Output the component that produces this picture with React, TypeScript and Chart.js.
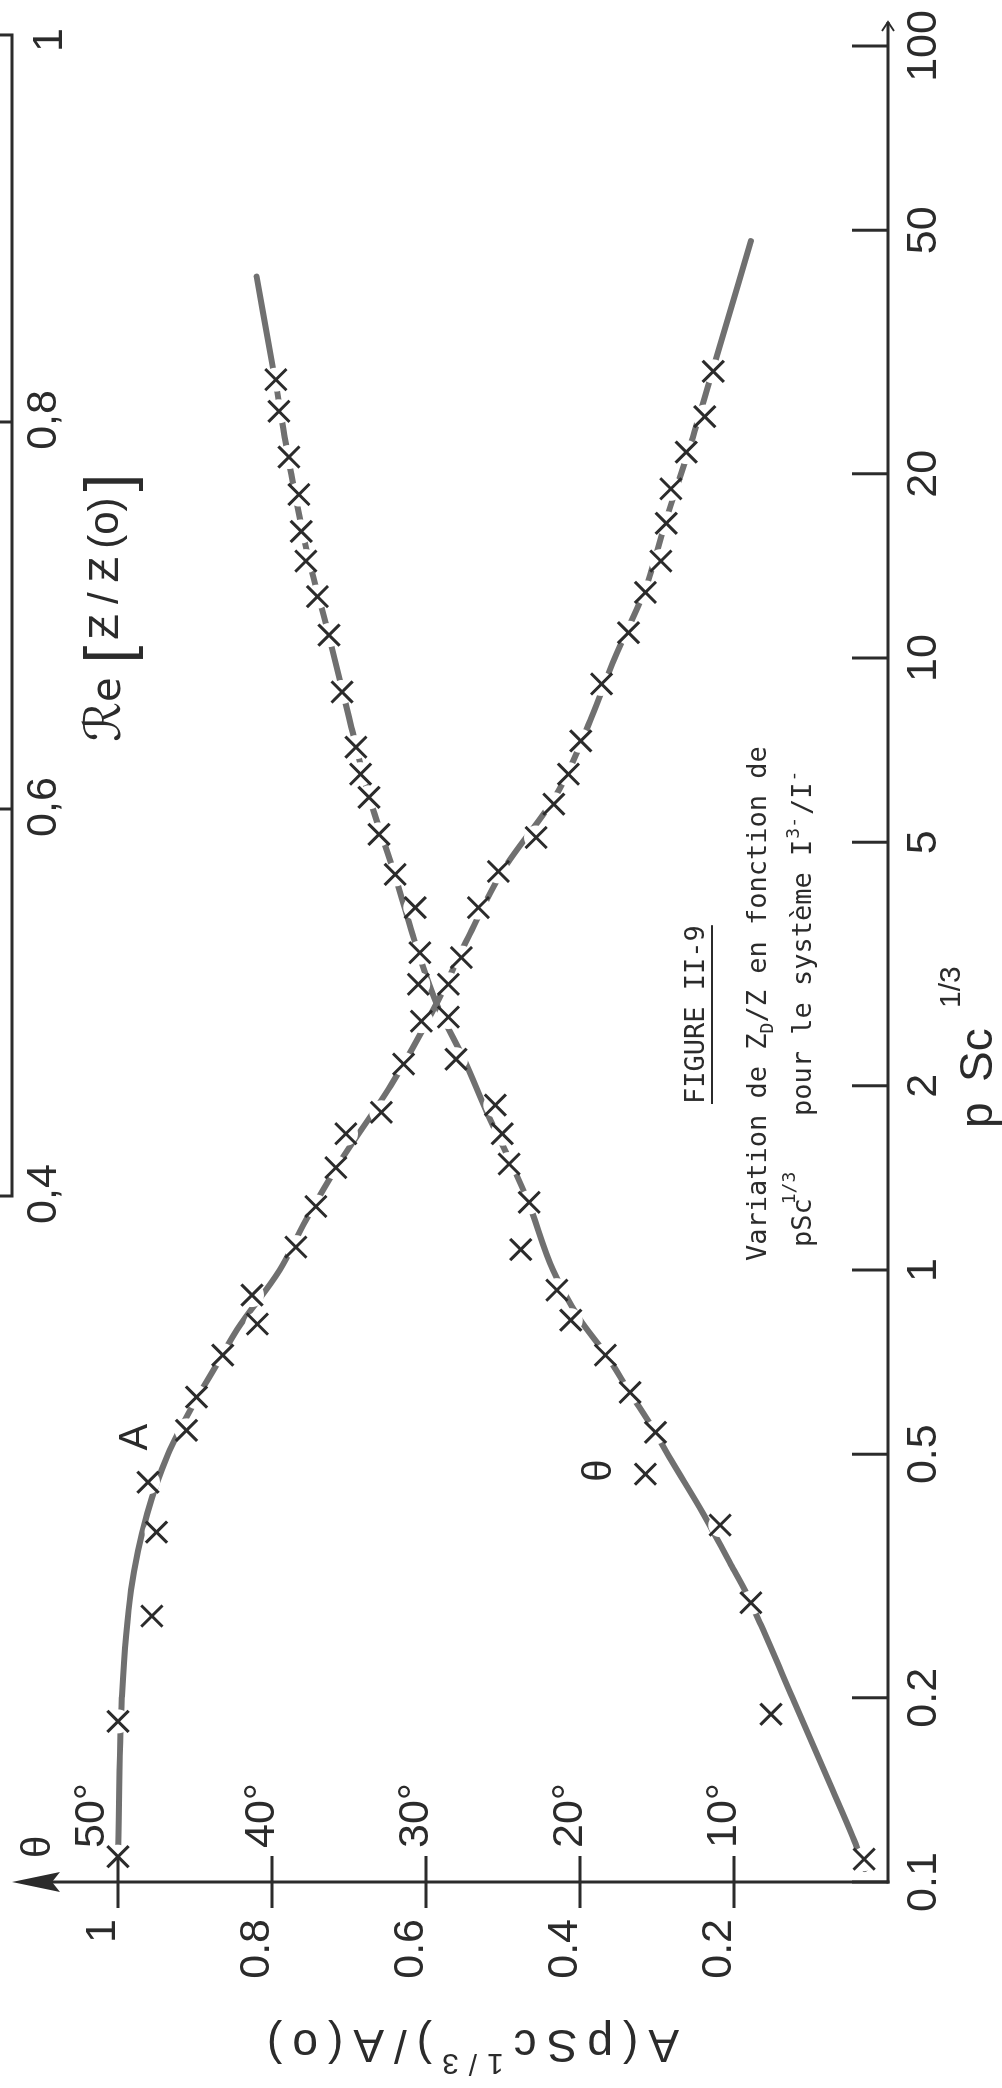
import React, { useEffect, useRef } from "react";
import { Chart, registerables } from "chart.js";

Chart.register(...registerables);

// ---------------- data ----------------
const X_TICKS = [0.1, 0.2, 0.5, 1, 2, 5, 10, 20, 50, 100];
const X_TICK_LABELS = ["0.1", "0.2", "0.5", "1", "2", "5", "10", "20", "50", "100"];
const Y_TICKS = [0.2, 0.4, 0.6, 0.8, 1];
const Y_TICK_LABELS = ["0.2", "0.4", "0.6", "0.8", "1"];
const THETA_TICKS = [10, 20, 30, 40, 50];
const THETA_TICK_LABELS = ["10°", "20°", "30°", "40°", "50°"];
const RE_TICKS = [0.4, 0.6, 0.8, 1];
const RE_TICK_LABELS = ["0,4", "0,6", "0,8", "1"];

// amplitude ratio A(pSc^1/3)/A(o): drawn curve
const A_CURVE_X = [0.11, 0.2, 0.3, 0.4, 0.5, 0.6, 0.7, 0.8, 1.0, 1.2, 1.5, 2.0, 2.7, 3.5, 4.5, 6, 8, 10, 13, 17, 22, 30, 48];
const A_CURVE_Y = [1.0, 0.995, 0.983, 0.962, 0.935, 0.903, 0.872, 0.845, 0.79, 0.757, 0.712, 0.646, 0.588, 0.545, 0.5, 0.43, 0.385, 0.355, 0.315, 0.287, 0.258, 0.226, 0.178];
// amplitude ratio: measured points (x marks)
const A_PTS_X = [0.11, 0.183, 0.272, 0.373, 0.45, 0.547, 0.62, 0.726, 0.816, 0.91, 1.09, 1.27, 1.47, 1.67, 1.81, 2.17, 2.55, 2.93, 3.24, 3.91, 4.48, 5.09, 5.77, 6.46, 7.32, 9.07, 11.0, 12.8, 14.4, 16.6, 18.9, 21.7, 24.8, 29.4];
const A_PTS_Y = [1.0, 1.0, 0.956, 0.95, 0.961, 0.911, 0.898, 0.864, 0.819, 0.826, 0.769, 0.743, 0.717, 0.704, 0.658, 0.629, 0.606, 0.571, 0.554, 0.532, 0.506, 0.457, 0.434, 0.415, 0.399, 0.372, 0.337, 0.315, 0.295, 0.288, 0.282, 0.262, 0.238, 0.227];

// phase angle theta (1 = 50°): drawn curve
const T_CURVE_X = [0.105, 0.117, 0.15, 0.2, 0.263, 0.3, 0.33, 0.4, 0.49, 0.55, 0.63, 0.73, 0.83, 1.0, 1.3, 1.5, 1.8, 2.2, 2.7, 3.3, 4.4, 6, 8, 11, 15, 20, 28, 42];
const T_CURVE_Y = [0.03, 0.044, 0.081, 0.124, 0.165, 0.186, 0.204, 0.24, 0.282, 0.305, 0.335, 0.367, 0.4, 0.435, 0.468, 0.49, 0.52, 0.55, 0.585, 0.61, 0.64, 0.675, 0.7, 0.727, 0.755, 0.775, 0.795, 0.82];
// phase angle: measured points (x marks)
const T_PTS_X = [0.109, 0.188, 0.286, 0.383, 0.464, 0.543, 0.631, 0.726, 0.828, 0.927, 1.08, 1.29, 1.49, 1.67, 1.86, 2.21, 2.59, 2.93, 3.3, 3.91, 4.43, 5.15, 5.92, 6.46, 7.15, 8.8, 10.9, 12.6, 14.4, 16.1, 18.5, 21.3, 25.3, 28.5];
const T_PTS_Y = [0.031, 0.152, 0.178, 0.218, 0.315, 0.302, 0.335, 0.367, 0.412, 0.43, 0.477, 0.466, 0.492, 0.501, 0.51, 0.561, 0.571, 0.61, 0.608, 0.614, 0.64, 0.661, 0.674, 0.685, 0.691, 0.709, 0.726, 0.741, 0.756, 0.762, 0.765, 0.778, 0.791, 0.795];

// ---------------- styles ----------------
const INK = "#2b2b2b";
const CURVE = "#707070";
const FONT = '"Liberation Sans", Arial, sans-serif';
const MONO = '"DejaVu Sans Mono", monospace';
const W = 2088;
const H = 1002;

type Seg = { t: string; size: number; dy?: number; family?: string };

function drawRun(ctx: CanvasRenderingContext2D, x: number, y: number, segs: Seg[], spacing = 0) {
  let cx = x;
  for (const s of segs) {
    ctx.font = `${s.size}px ${s.family || FONT}`;
    for (const ch of Array.from(s.t)) {
      ctx.fillText(ch, cx, y + (s.dy || 0));
      cx += ctx.measureText(ch).width + spacing;
    }
  }
  return cx;
}

function runWidth(ctx: CanvasRenderingContext2D, segs: Seg[], spacing = 0) {
  let w = 0;
  for (const s of segs) {
    ctx.font = `${s.size}px ${s.family || FONT}`;
    for (const ch of Array.from(s.t)) w += ctx.measureText(ch).width + spacing;
  }
  return w - spacing;
}

// a "Z" with a middle stroke (complex impedance notation)
function drawStrokedZ(ctx: CanvasRenderingContext2D, x: number, y: number, size: number) {
  ctx.font = `${size}px ${FONT}`;
  ctx.fillText("Z", x, y);
  const w = ctx.measureText("Z").width;
  ctx.save();
  ctx.lineWidth = 2.5;
  ctx.beginPath();
  ctx.moveTo(x + w * 0.15, y - size * 0.36);
  ctx.lineTo(x + w * 0.85, y - size * 0.36);
  ctx.stroke();
  ctx.restore();
  return x + w;
}

const decorPlugin = {
  id: "decor",
  afterDatasetsDraw(chart: any) {
    const ctx: CanvasRenderingContext2D = chart.ctx;
    const xs = chart.scales.x;
    const ys = chart.scales.y;
    const yt = chart.scales.yTheta;
    const xr = chart.scales.xRe;
    const x0 = xs.getPixelForValue(0.1);
    const y0 = ys.getPixelForValue(0);
    ctx.save();
    ctx.strokeStyle = INK;
    ctx.fillStyle = INK;
    ctx.lineWidth = 3;

    // vertical axis with arrow
    ctx.beginPath();
    ctx.moveTo(x0, y0 + 1.5);
    ctx.lineTo(x0, 40);
    ctx.stroke();
    ctx.beginPath();
    ctx.moveTo(x0, 12);
    ctx.lineTo(x0 - 10, 60);
    ctx.lineTo(x0, 52);
    ctx.lineTo(x0 + 10, 60);
    ctx.closePath();
    ctx.fill();

    // horizontal (log) axis with small arrow
    const xEnd = xs.getPixelForValue(100) + 24;
    ctx.beginPath();
    ctx.moveTo(x0 - 1.5, y0);
    ctx.lineTo(xEnd, y0);
    ctx.stroke();
    ctx.lineWidth = 2;
    ctx.beginPath();
    ctx.moveTo(xEnd - 9, y0 - 6);
    ctx.lineTo(xEnd, y0);
    ctx.lineTo(xEnd - 9, y0 + 6);
    ctx.stroke();
    ctx.lineWidth = 3;

    // log ticks (pointing into the plot)
    for (const v of X_TICKS) {
      const px = xs.getPixelForValue(v);
      ctx.beginPath();
      ctx.moveTo(px, y0);
      ctx.lineTo(px, y0 - 36);
      ctx.stroke();
    }
    // A ticks (crossing the axis)
    for (const v of Y_TICKS) {
      const py = ys.getPixelForValue(v);
      ctx.beginPath();
      ctx.moveTo(x0 - 26, py);
      ctx.lineTo(x0 + 26, py);
      ctx.stroke();
    }

    // theta degree labels
    ctx.font = `43px ${FONT}`;
    ctx.textAlign = "left";
    ctx.textBaseline = "alphabetic";
    THETA_TICKS.forEach((v, i) => {
      const py = yt.getPixelForValue(v);
      ctx.fillText(THETA_TICK_LABELS[i], x0 + 34, v === 50 ? py - 14 : py + 2);
    });
    ctx.font = `40px ${FONT}`;
    ctx.fillText("θ", x0 + 24, 50);

    // curve labels
    ctx.textAlign = "center";
    ctx.font = `40px ${FONT}`;
    ctx.fillText("A", xs.getPixelForValue(0.533), ys.getPixelForValue(0.962));
    ctx.fillText("θ", xs.getPixelForValue(0.47), ys.getPixelForValue(0.36));

    // Re axis of the upper figure
    const r0 = xr.getPixelForValue(0.4);
    const r1 = xr.getPixelForValue(1);
    ctx.beginPath();
    ctx.moveTo(r0, 0);
    ctx.lineTo(r0, 12);
    ctx.lineTo(r1, 12);
    ctx.lineTo(r1, 0);
    ctx.stroke();
    for (const v of [0.6, 0.8]) {
      const px = xr.getPixelForValue(v);
      ctx.beginPath();
      ctx.moveTo(px, 0);
      ctx.lineTo(px, 12);
      ctx.stroke();
    }
    ctx.font = `43px ${FONT}`;
    ctx.textAlign = "center";
    RE_TICKS.forEach((v, i) => {
      const px = xr.getPixelForValue(v) + (v === 1 ? -5 : 2);
      ctx.fillText(RE_TICK_LABELS[i], px, v === 1 ? 62 : 56);
    });
    ctx.textAlign = "left";
    let cx = drawRun(ctx, 1346, 120, [{ t: "ℛ", size: 50, family: '"DejaVu Sans", sans-serif' }, { t: "e", size: 40, family: '"DejaVu Sans", sans-serif' }]);
    cx += 14;
    cx = drawRun(ctx, cx, 130, [{ t: "[", size: 64 }]);
    cx += 6;
    cx = drawStrokedZ(ctx, cx, 118, 42);
    cx += 10;
    cx = drawRun(ctx, cx, 118, [{ t: "/", size: 42 }]);
    cx += 10;
    cx = drawStrokedZ(ctx, cx, 118, 42);
    cx += 8;
    cx = drawRun(ctx, cx, 118, [{ t: "(o)", size: 42 }]);
    cx += 6;
    drawRun(ctx, cx, 130, [{ t: "]", size: 64 }]);

    // x axis title
    drawRun(ctx, 960, 992, [{ t: "p", size: 46 }]);
    drawRun(ctx, 1006, 992, [{ t: "Sc", size: 46 }]);
    drawRun(ctx, 1080, 960, [{ t: "1/3", size: 30 }]);

    // y axis title (rotated)
    const ySegs: Seg[] = [
      { t: "A(pSc", size: 46 },
      { t: "1/3", size: 30, dy: -24 },
      { t: ")/A(o)", size: 46 },
    ];
    ctx.save();
    ctx.translate(58, 473);
    ctx.rotate(-Math.PI / 2);
    const tw = runWidth(ctx, ySegs, 10);
    drawRun(ctx, -tw / 2, 0, ySegs, 10);
    ctx.restore();

    // caption
    ctx.textAlign = "left";
    const f1 = drawRun(ctx, 984, 704, [{ t: "FIGURE II-9", size: 27, family: MONO }]);
    ctx.lineWidth = 2;
    ctx.beginPath();
    ctx.moveTo(984, 712);
    ctx.lineTo(f1, 712);
    ctx.stroke();
    let c2 = drawRun(ctx, 827, 766, [{ t: "Variation de Z", size: 27, family: MONO }]);
    c2 = drawRun(ctx, c2, 773, [{ t: "D", size: 18, family: MONO }]);
    drawRun(ctx, c2, 766, [{ t: "/Z en fonction de", size: 27, family: MONO }]);
    const c3a = drawRun(ctx, 841, 811, [{ t: "pSc", size: 27, family: MONO }]);
    drawRun(ctx, c3a - 6, 795, [{ t: "1/3", size: 18, family: MONO }]);
    let c3 = drawRun(ctx, 972, 811, [{ t: "pour le système I", size: 27, family: MONO }]);
    c3 = drawRun(ctx, c3 + 1, 799, [{ t: "3-", size: 18, family: MONO }]);
    c3 = drawRun(ctx, c3 + 2, 811, [{ t: "/I", size: 27, family: MONO }]);
    drawRun(ctx, c3 + 1, 799, [{ t: "-", size: 18, family: MONO }]);

    ctx.restore();
  },
};

function pts(xsArr: number[], ysArr: number[]) {
  return xsArr.map((x, i) => ({ x, y: ysArr[i] }));
}

export default function App() {
  const ref = useRef<HTMLCanvasElement>(null);

  useEffect(() => {
    if (!ref.current) return;
    const curve = (data: any) => ({
      data,
      showLine: true,
      borderColor: CURVE,
      borderWidth: 6,
      borderCapStyle: "round",
      pointRadius: 0,
      cubicInterpolationMode: "monotone",
      clip: false,
      order: 3,
    });
    const gaps = (data: any) => ({
      data,
      showLine: false,
      pointStyle: "circle",
      pointRadius: 12,
      pointBorderWidth: 0,
      pointBackgroundColor: "#ffffff",
      pointBorderColor: "#ffffff",
      clip: false,
      order: 2,
    });
    const marks = (data: any) => ({
      data,
      showLine: false,
      pointStyle: "crossRot",
      pointRadius: 15,
      pointBorderWidth: 3,
      pointBorderColor: INK,
      pointBackgroundColor: INK,
      clip: false,
      order: 1,
    });
    const chart = new Chart(ref.current, {
      type: "scatter",
      data: {
        datasets: [
          curve(pts(A_CURVE_X, A_CURVE_Y)),
          curve(pts(T_CURVE_X, T_CURVE_Y)),
          gaps(pts(A_PTS_X, A_PTS_Y)),
          gaps(pts(T_PTS_X, T_PTS_Y)),
          marks(pts(A_PTS_X, A_PTS_Y)),
          marks(pts(T_PTS_X, T_PTS_Y)),
        ] as any,
      },
      options: {
        responsive: false,
        maintainAspectRatio: false,
        devicePixelRatio: 1,
        animation: false,
        events: [],
        layout: { padding: { left: 0, right: 46, top: 118, bottom: 0 } },
        plugins: { legend: { display: false }, tooltip: { enabled: false } },
        scales: {
          x: {
            type: "logarithmic",
            position: "bottom",
            min: 0.1,
            max: 100,
            afterBuildTicks: (s: any) => {
              s.ticks = X_TICKS.map((v) => ({ value: v }));
            },
            afterFit: (s: any) => {
              s.height = 114;
            },
            grid: { display: false, drawTicks: false },
            border: { display: false },
            ticks: {
              autoSkip: false,
              maxRotation: 0,
              minRotation: 0,
              padding: 10,
              color: INK,
              font: { family: FONT, size: 43 },
              callback: (_v: any, i: number) => X_TICK_LABELS[i],
            },
          },
          y: {
            type: "linear",
            position: "left",
            min: 0,
            max: 1,
            afterBuildTicks: (s: any) => {
              s.ticks = Y_TICKS.map((v) => ({ value: v }));
            },
            afterFit: (s: any) => {
              s.width = 206;
            },
            grid: { display: false, drawTicks: false },
            border: { display: false },
            ticks: {
              padding: 37,
              labelOffset: -15,
              color: INK,
              font: { family: FONT, size: 43 },
              callback: (_v: any, i: number) => Y_TICK_LABELS[i],
            },
          },
          yTheta: { type: "linear", position: "left", min: 0, max: 50, display: false },
          xRe: { type: "linear", position: "top", min: 0.0455, max: 0.9943, display: false },
        },
      } as any,
      plugins: [decorPlugin],
    });
    return () => chart.destroy();
  }, []);

  return (
    <div style={{ position: "absolute", left: 0, top: 0, width: 1002, height: 2088, overflow: "hidden", background: "#ffffff" }}>
      <div
        style={{
          position: "absolute",
          left: 0,
          top: 0,
          width: W,
          height: H,
          transformOrigin: "0 0",
          transform: `translate(0px, ${W}px) rotate(-90deg)`,
        }}
      >
        <canvas ref={ref} width={W} height={H} style={{ width: W, height: H, display: "block" }} />
      </div>
    </div>
  );
}
